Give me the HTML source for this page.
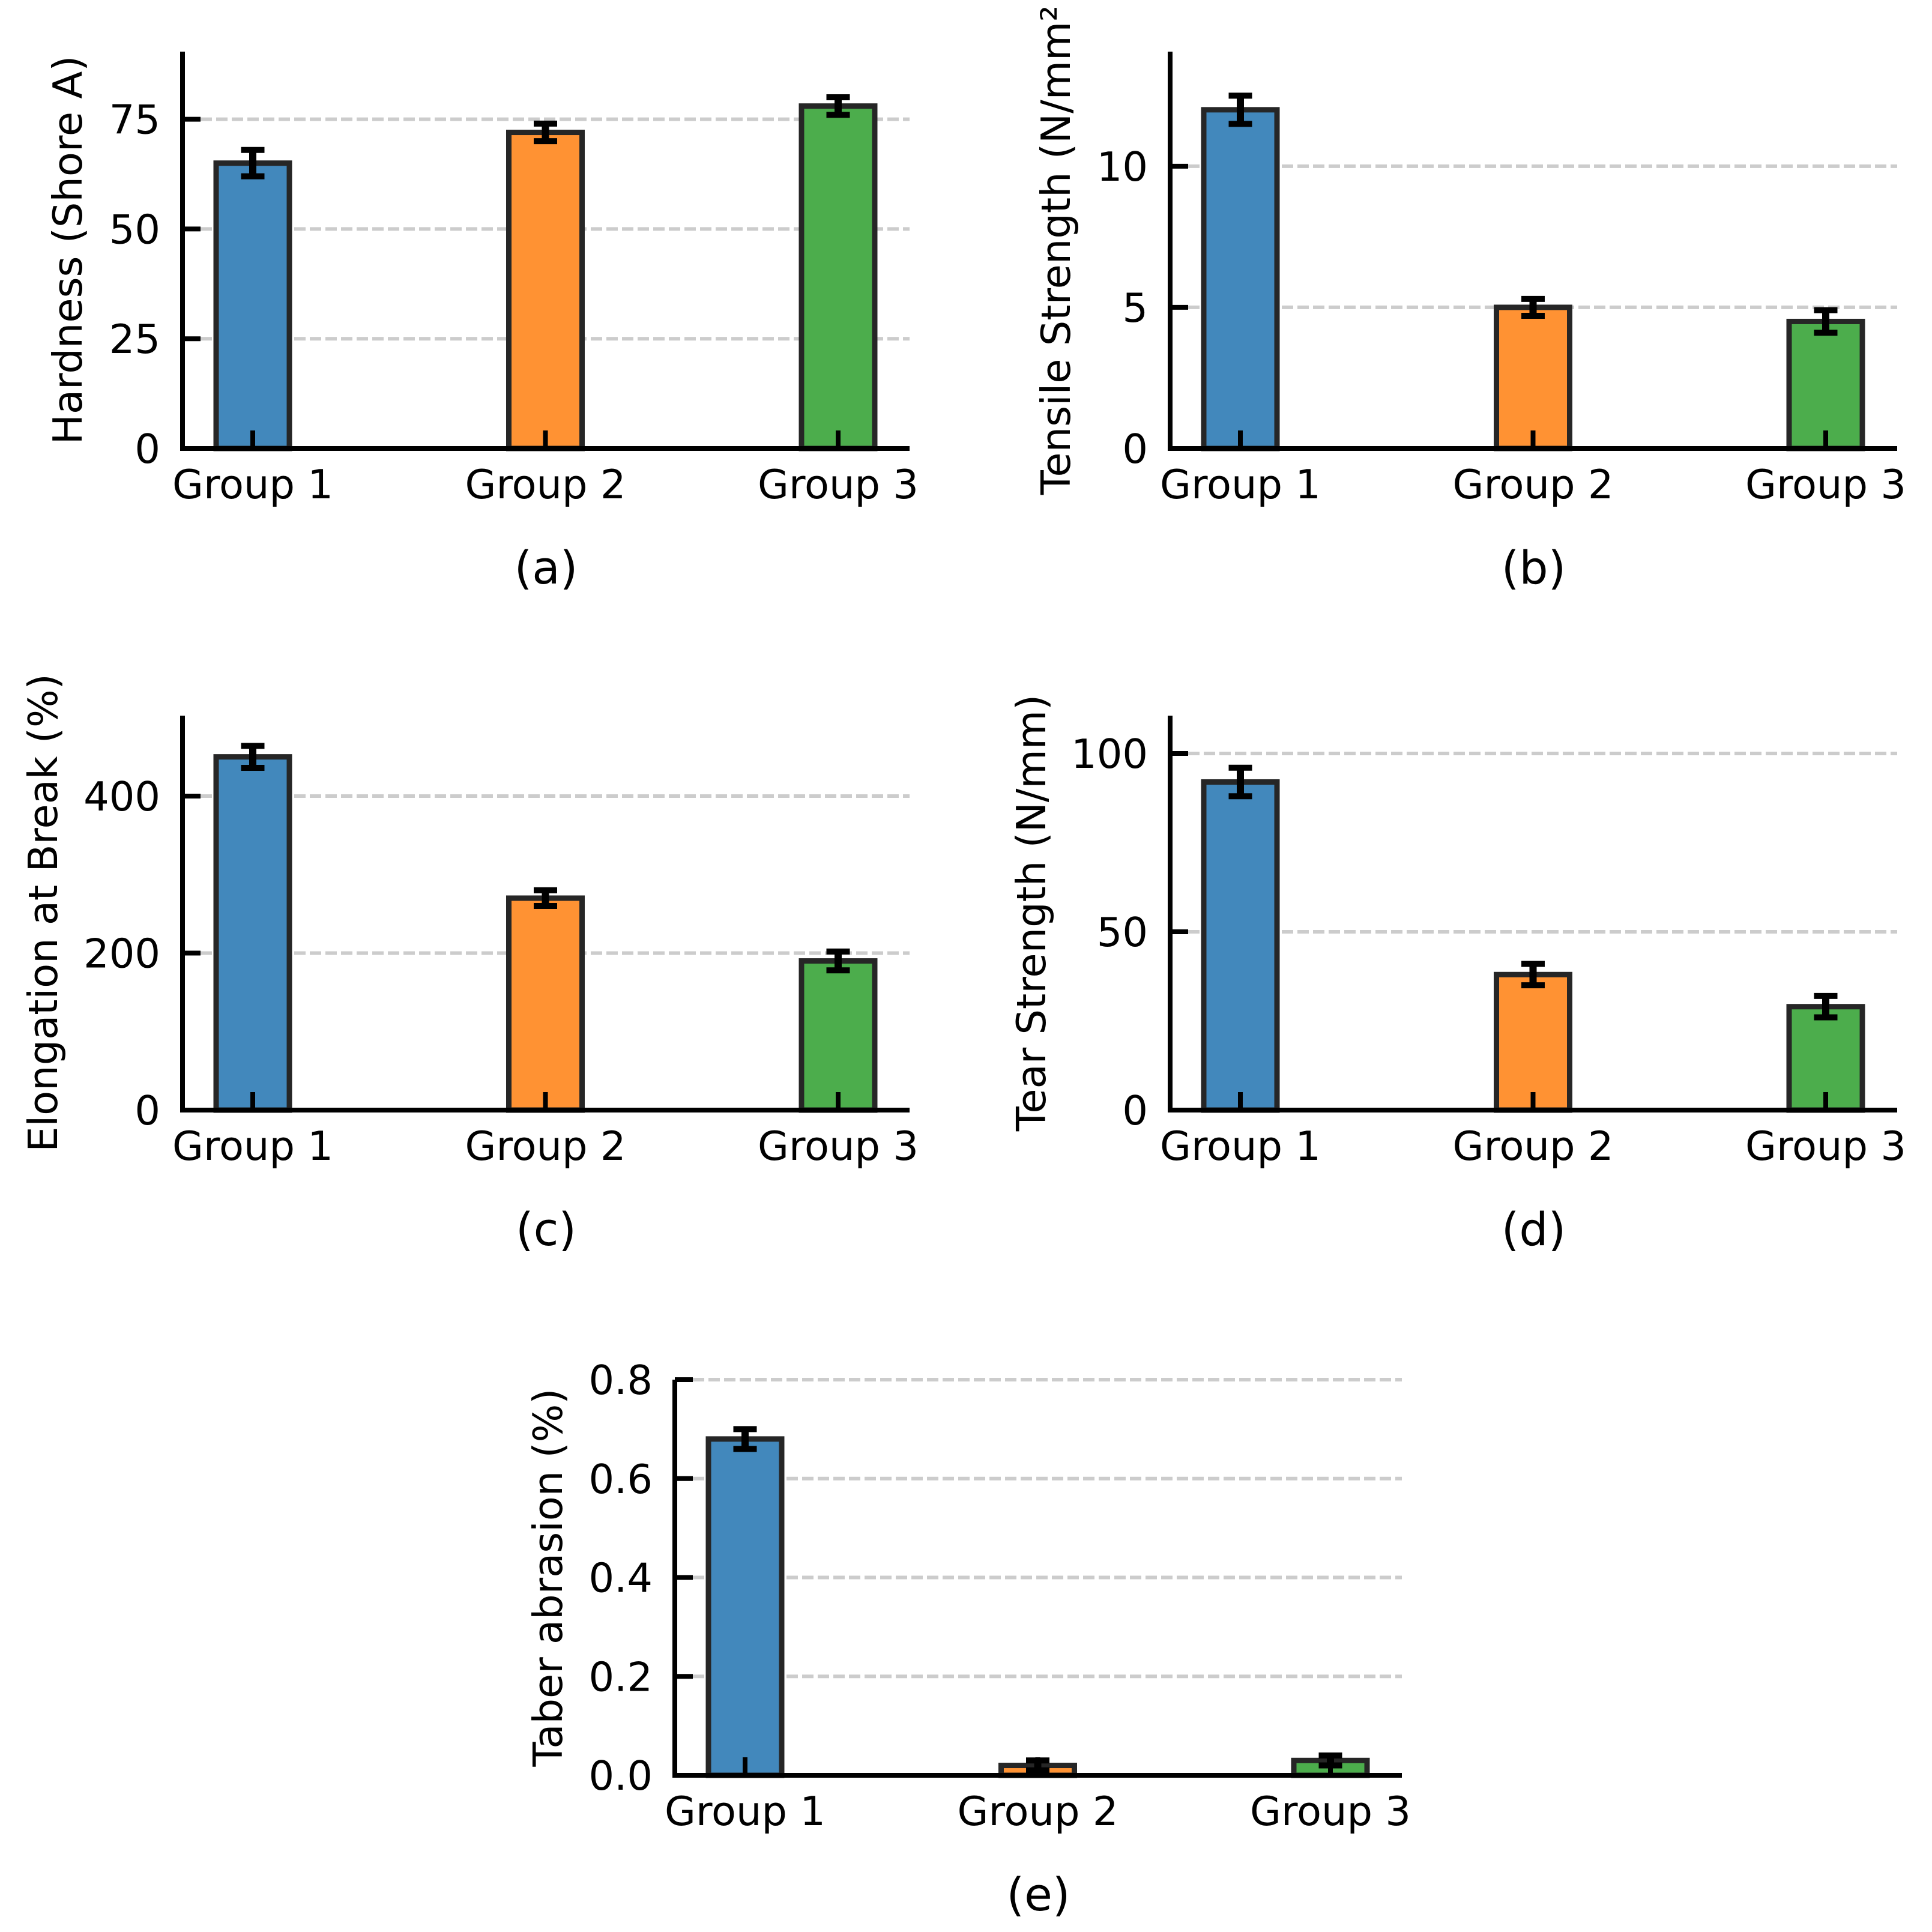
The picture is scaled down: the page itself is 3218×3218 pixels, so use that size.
<!DOCTYPE html>
<html><head><meta charset="utf-8"><style>
html,body{margin:0;padding:0;background:#fff;}
svg{display:block;font-family:"DejaVu Sans","Liberation Sans",sans-serif;}
</style></head><body>
<svg id="fig" width="3218" height="3218" viewBox="0 0 3218 3218" xmlns="http://www.w3.org/2000/svg"></svg>
<script>
const categories = ["Group 1","Group 2","Group 3"];
const hardnessValues = [65, 72, 78];
const hardnessErrors = [3, 2, 2];
const tensileValues = [12, 5, 4.5];
const tensileErrors = [0.5, 0.3, 0.4];
const elongationValues = [450, 270, 190];
const elongationErrors = [14, 10, 12];
const tearValues = [92, 38, 29];
const tearErrors = [4, 3, 3];
const taberValues = [0.68, 0.02, 0.03];
const taberErrors = [0.02, 0.01, 0.01];
const hardnessTicks = [0, 25, 50, 75];
const tensileTicks = [0, 5, 10];
const elongationTicks = [0, 200, 400];
const tearTicks = [0, 50, 100];
const taberTicks = ["0.0","0.2","0.4","0.6","0.8"];
const barColors = ["#4288bc","#ff9233","#4cad4c"];

const NS = "http://www.w3.org/2000/svg";
const svg = document.getElementById("fig");
function mk(tag, attrs, parent, text){
  const e = document.createElementNS(NS, tag);
  for (const k in attrs) e.setAttribute(k, attrs[k]);
  if (text !== undefined) e.textContent = text;
  (parent || svg).appendChild(e);
  return e;
}

function panel(o){
  const g = mk("g", {});
  
  
  const x0 = o.left, x1 = o.left + 1211;
  const xs = v => x0 + (v + 0.24) * 487.5;
  const ys = v => o.bottom - (v - 0) / o.ymax * (o.bottom - o.top);
  const yTop = o.top;
  o.ticks.forEach(t => {
    const tv = parseFloat(t);
    if (tv === 0) return;
    const gl = mk("line", {x1:x0+30, x2:x1, y1:ys(tv), y2:ys(tv), stroke:"#cccccc", "stroke-width":6, "stroke-dasharray":"19 7"}, g);
    
    
  });
  o.values.forEach((v, i) => {
    const cx = xs(i), w = 122;
    const r = mk("rect", {x:cx - w/2, y:ys(v), width:w, height:ys(0) - ys(v), fill:barColors[i], stroke:"#262626", "stroke-width":9}, g);
    
    
  });
  categories.forEach((c, i) => {
    const tk = mk("line", {x1:xs(i), x2:xs(i), y1:o.bottom, y2:o.bottom - 30, stroke:"#000", "stroke-width":8}, g);
    
    
    const tl = mk("text", {x:xs(i), y:o.bottom + 83, "text-anchor":"middle", "font-size":67, fill:"#000"}, g, c);
    
    
  });
  o.values.forEach((v, i) => {
    const cx = xs(i), e = o.errors[i];
    const eg = mk("g", {}, g);
    
    
    mk("line", {x1:cx, x2:cx, y1:ys(v-e), y2:ys(v+e), stroke:"#000", "stroke-width":12}, eg);
    mk("line", {x1:cx-19.5, x2:cx+19.5, y1:ys(v-e), y2:ys(v-e), stroke:"#000", "stroke-width":10}, eg);
    mk("line", {x1:cx-19.5, x2:cx+19.5, y1:ys(v+e), y2:ys(v+e), stroke:"#000", "stroke-width":10}, eg);
  });
  o.ticks.forEach(t => {
    const tv = parseFloat(t);
    const tk = mk("line", {x1:x0, x2:x0 + 30, y1:ys(tv), y2:ys(tv), stroke:"#000", "stroke-width":8}, g);
    
    
    const tl = mk("text", {x:x0 - 37, y:ys(tv) + 24, "text-anchor":"end", "font-size":67, fill:"#000"}, g, String(t));
    
    
  });
  const ls = mk("line", {x1:x0, x2:x0, y1:yTop, y2:o.bottom + 4, stroke:"#000", "stroke-width":8}, g);
  
  
  const bs = mk("line", {x1:x0 - 4, x2:x1, y1:o.bottom, y2:o.bottom, stroke:"#000", "stroke-width":8}, g);
  
  
  const cy = (o.top + o.bottom) / 2;
  const yl = mk("text", {x:0, y:0, transform:`translate(${o.ylx},${cy}) rotate(-90)`, "text-anchor":"middle", "dominant-baseline":"central", "font-size":67, fill:"#000"}, g, o.ylabel);
  
  
  const cp = mk("text", {x:(x0 + x1) / 2, y:o.bottom + 225, "text-anchor":"middle", "font-size":76, fill:"#000"}, g, o.caption);
  
  
}

panel({name:"panel-a-hardness", left:304, top:86, bottom:747, ymax:90.4, values:hardnessValues, errors:hardnessErrors, ticks:hardnessTicks, ylabel:"Hardness (Shore A)", ylx:113, caption:"(a)"});
panel({name:"panel-b-tensile", left:1949, top:86, bottom:747, ymax:14.06, values:tensileValues, errors:tensileErrors, ticks:tensileTicks, ylabel:"Tensile Strength (N/mm²", ylx:1759, caption:"(b)"});
panel({name:"panel-c-elongation", left:304, top:1192, bottom:1849, ymax:502.5, values:elongationValues, errors:elongationErrors, ticks:elongationTicks, ylabel:"Elongation at Break (%)", ylx:72, caption:"(c)"});
panel({name:"panel-d-tear", left:1949, top:1192, bottom:1849, ymax:110.6, values:tearValues, errors:tearErrors, ticks:tearTicks, ylabel:"Tear Strength (N/mm)", ylx:1718, caption:"(d)"});
panel({name:"panel-e-taber", left:1124, top:2298, bottom:2957, ymax:0.8, values:taberValues, errors:taberErrors, ticks:taberTicks, ylabel:"Taber abrasion (%)", ylx:913, caption:"(e)"});
</script>
</body></html>
